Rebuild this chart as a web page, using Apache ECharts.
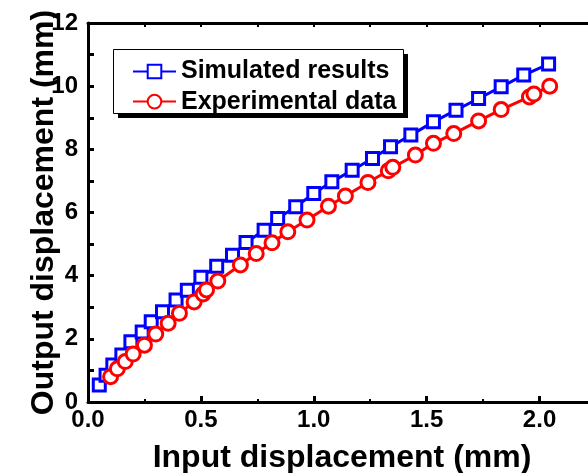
<!DOCTYPE html>
<html>
<body style="margin:0">

<!-- chart container -->
<div id="chart" style="width:588px; height:473px;"></div>

<script src="https://cdn.jsdelivr.net/npm/echarts@6/dist/echarts.min.js"></script>

<script>
  // values
  var simX = [0.05, 0.08, 0.11, 0.15, 0.19, 0.24, 0.28, 0.33, 0.39, 0.44, 0.50, 0.57, 0.64, 0.70, 0.78,
    0.84, 0.92, 1.00, 1.08, 1.17, 1.26, 1.34, 1.43, 1.53, 1.63, 1.73, 1.83, 1.93, 2.04];
  var simY = [0.54, 0.85, 1.17, 1.49, 1.91, 2.22, 2.54, 2.86, 3.23, 3.54, 3.95, 4.30, 4.65, 5.05, 5.44,
    5.81, 6.18, 6.60, 6.97, 7.34, 7.71, 8.08, 8.45, 8.87, 9.24, 9.61, 9.98, 10.35, 10.70];

  var expX = [0.10, 0.13, 0.165, 0.20, 0.25, 0.30, 0.355, 0.405, 0.47, 0.51, 0.525, 0.575, 0.675, 0.745,
    0.815, 0.885, 0.97, 1.065, 1.14, 1.24, 1.33, 1.35, 1.45, 1.53, 1.62, 1.73, 1.83, 1.955, 1.975, 2.045];
  var expY = [0.80, 1.05, 1.28, 1.52, 1.80, 2.15, 2.49, 2.81, 3.17, 3.42, 3.55, 3.83, 4.34, 4.70,
    5.04, 5.39, 5.76, 6.20, 6.52, 6.95, 7.32, 7.43, 7.82, 8.19, 8.50, 8.90, 9.26, 9.66, 9.75, 10.00];

  var seriesNames = ['Simulated results', 'Experimental data'];

  var FONT = '"Liberation Sans", Arial, sans-serif';

  function pairs(xs, ys) {
    return xs.map(function (x, i) { return [x, ys[i]]; });
  }

  var option = {
    animation: false,
    backgroundColor: '#fff',
    grid: {
      left: 88,
      right: -8,
      top: 23,
      bottom: 71,
      outerBoundsMode: 'none'
    },
    // legend frame with its hard shadow
    graphic: [{
      type: 'rect',
      z: 1,
      shape: { x: 118, y: 54, width: 290, height: 64 },
      style: { fill: '#000' }
    }, {
      type: 'rect',
      z: 2,
      shape: { x: 113.5, y: 49.5, width: 290, height: 64 },
      style: { fill: '#fff', stroke: '#000', lineWidth: 1 }
    }],
    legend: {
      orient: 'vertical',
      left: 113,
      top: 50,
      z: 10,
      padding: [0, 0, 0, 19],
      itemGap: -13,
      itemWidth: 43,
      itemHeight: 17,
      textStyle: {
        fontFamily: FONT,
        fontSize: 25,
        fontWeight: 'bold',
        color: '#000'
      },
      data: seriesNames
    },
    xAxis: [{
      // bottom axis with labels and major ticks
      type: 'value',
      position: 'bottom',
      min: 0,
      max: 2.25,
      interval: 0.5,
      name: 'Input displacement (mm)',
      nameLocation: 'middle',
      nameGap: 29,
      nameMoveOverlap: false,
      nameTextStyle: {
        fontFamily: FONT,
        fontSize: 32,
        fontWeight: 'bold',
        color: '#000'
      },
      axisLine: { onZero: false, lineStyle: { color: '#000', width: 3 } },
      axisTick: { inside: true, length: 6, lineStyle: { color: '#000', width: 3 } },
      axisLabel: {
        fontFamily: FONT,
        fontSize: 24,
        fontWeight: 'bold',
        color: '#000',
        margin: -2,
        showMaxLabel: false,
        formatter: function (v) { return v.toFixed(1); }
      },
      splitLine: { show: false }
    }, {
      // bottom minor ticks
      type: 'value',
      position: 'bottom',
      min: 0,
      max: 2.25,
      interval: 0.25,
      axisLine: { show: false },
      axisTick: { inside: true, length: 3, lineStyle: { color: '#000', width: 2 } },
      axisLabel: { show: false },
      splitLine: { show: false }
    }, {
      // top frame
      type: 'value',
      position: 'top',
      min: 0,
      max: 2.25,
      interval: 0.25,
      axisLine: { onZero: false, lineStyle: { color: '#000', width: 3 } },
      axisTick: { inside: true, length: 4, lineStyle: { color: '#000', width: 2 } },
      axisLabel: { show: false },
      splitLine: { show: false }
    }],
    yAxis: {
      type: 'value',
      min: 0,
      max: 12,
      interval: 1,
      name: 'Output displacement (mm)',
      nameLocation: 'middle',
      nameGap: 16,
      nameMoveOverlap: false,
      nameTextStyle: {
        fontFamily: FONT,
        fontSize: 32,
        fontWeight: 'bold',
        color: '#000'
      },
      axisLine: { show: true, onZero: false, lineStyle: { color: '#000', width: 3 } },
      axisTick: { show: true, inside: true, length: 6, lineStyle: { color: '#000', width: 3 } },
      axisLabel: {
        fontFamily: FONT,
        fontSize: 24,
        fontWeight: 'bold',
        color: '#000',
        margin: 10,
        formatter: function (v) { return v % 2 === 0 ? String(v) : ''; }
      },
      splitLine: { show: false }
    },
    series: [{
      name: seriesNames[0],
      type: 'line',
      xAxisIndex: 0,
      data: pairs(simX, simY),
      symbol: 'rect',
      symbolSize: 12,
      showAllSymbol: true,
      lineStyle: { color: '#0000ff', width: 3 },
      itemStyle: { color: '#fff', borderColor: '#0000ff', borderWidth: 3 },
      emphasis: { disabled: true }
    }, {
      name: seriesNames[1],
      type: 'line',
      xAxisIndex: 0,
      data: pairs(expX, expY),
      symbol: 'circle',
      symbolSize: 14,
      showAllSymbol: true,
      lineStyle: { color: '#ff0000', width: 3 },
      itemStyle: { color: '#fff', borderColor: '#ff0000', borderWidth: 3 },
      emphasis: { disabled: true }
    }]
  };

  var chart = echarts.init(document.getElementById('chart'));
  chart.setOption(option);
</script>

</body>
</html>
